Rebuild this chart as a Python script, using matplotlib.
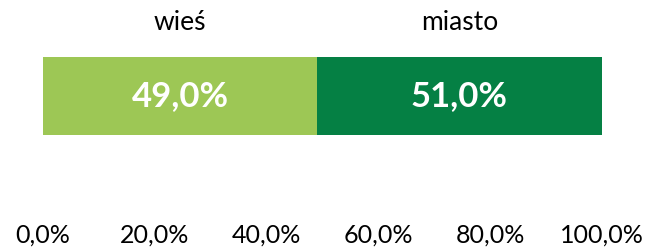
import matplotlib
matplotlib.use("Agg")
from matplotlib import pyplot as plt
from matplotlib.transforms import ScaledTranslation

categories = ["wieś", "miasto"]
values = [49.0, 51.0]
colors = ["#9dc755", "#058044"]
ticks = [0, 20, 40, 60, 80, 100]
tick_labels = ["0,0%", "20,0%", "40,0%", "60,0%", "80,0%", "100,0%"]

plt.rcParams["font.family"] = ["Lato", "DejaVu Sans"]

W, H = 646, 249
fig = plt.figure(figsize=(W / 100, H / 100), dpi=100)
# axes spans the bar exactly
ax = fig.add_axes([43 / W, 1 - 135 / H, (602 - 43) / W, 78 / H])

# category names sit above the bar
lift = ScaledTranslation(0, 16 / 72, fig.dpi_scale_trans)

left = 0
for cat, val, col in zip(categories, values, colors):
	ax.barh(0, val, left=left, height=1, color=col, edgecolor="none")
	mid = left + val / 2
	ax.text(mid, 0, f"{val:.1f}%".replace(".", ","), ha="center", va="center",
			color="white", fontsize=25, fontweight="bold")
	ax.text(mid, 0.5, cat, ha="center", va="bottom", fontsize=19,
			transform=ax.transData + lift, clip_on=False)
	left += val

ax.set_xlim(0, 100)
ax.set_ylim(-0.5, 0.5)
ax.set_yticks([])
ax.set_xticks(ticks)
ax.set_xticklabels(tick_labels, fontsize=18)
ax.tick_params(axis="x", length=0, pad=64)
for s in ax.spines.values():
	s.set_visible(False)

fig.savefig("out.png", dpi=100)
